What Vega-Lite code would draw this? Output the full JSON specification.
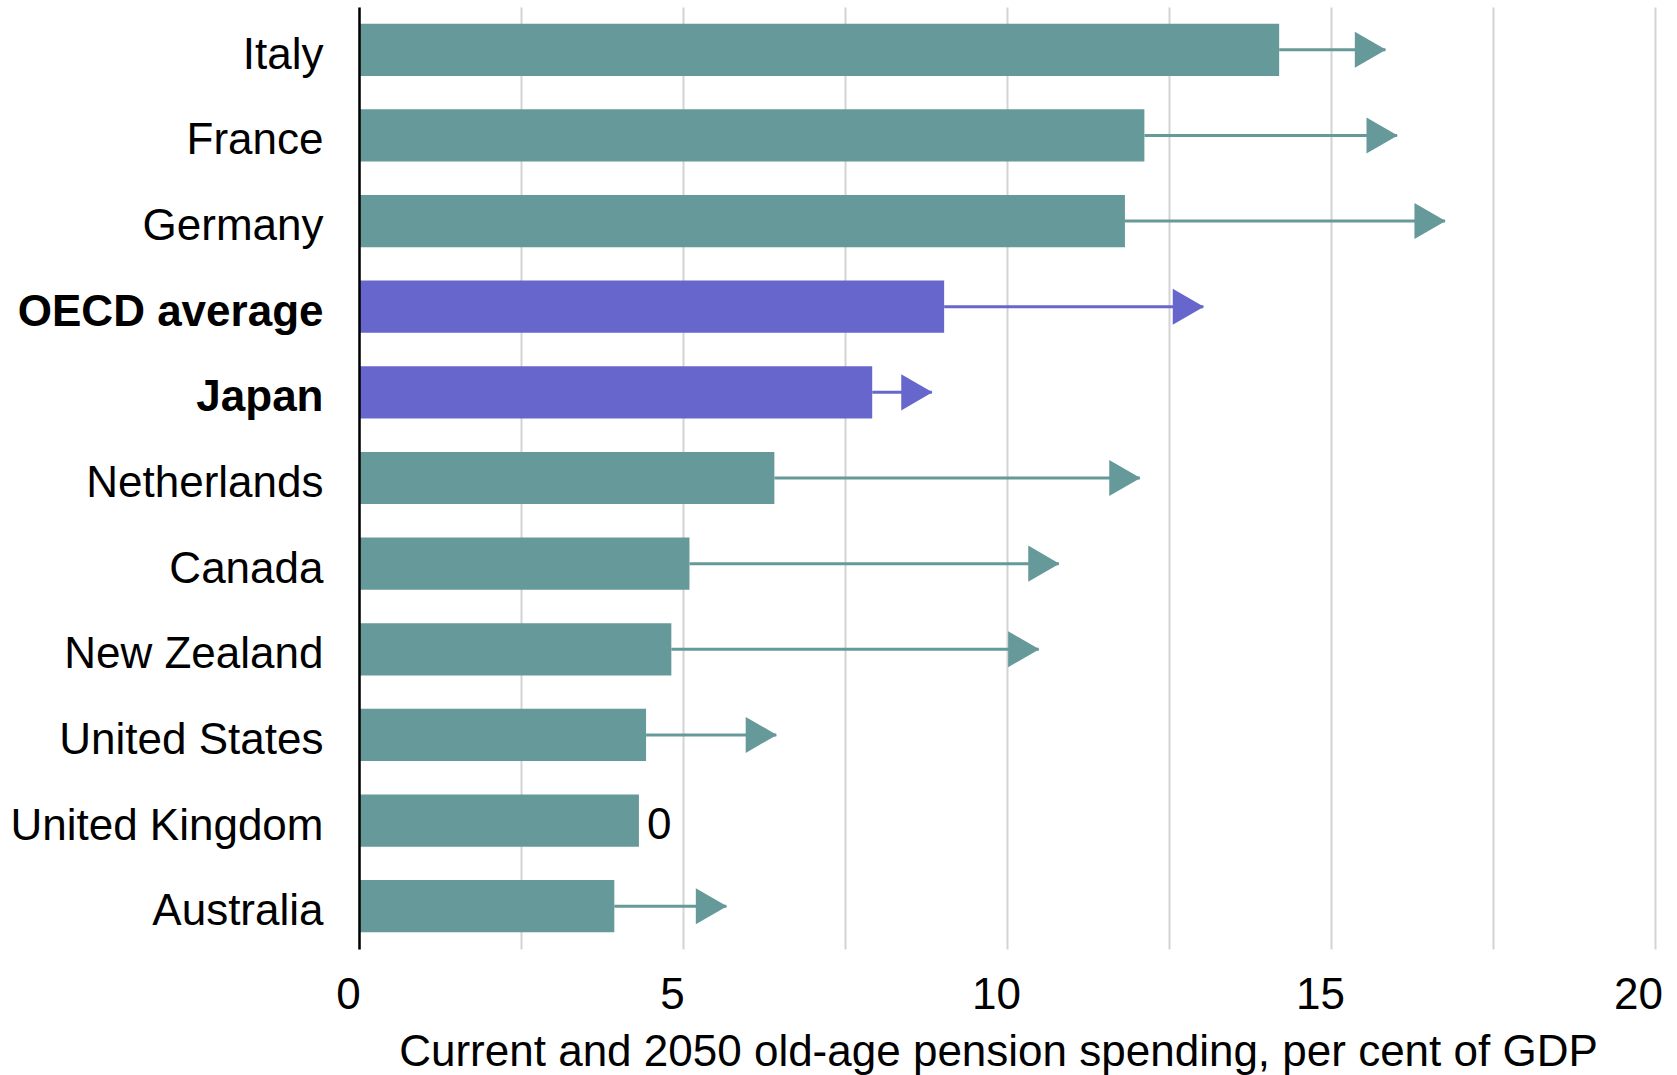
{
  "$schema": "https://vega.github.io/schema/vega-lite/v6.json",
  "width": 1296,
  "height": 942,
  "autosize": {"type": "none"},
  "padding": {"left": 359, "top": 7, "right": 22, "bottom": 126},
  "background": "white",
  "config": {"view": {"stroke": null}, "font": "Liberation Sans"},
  "data": {
    "values": [
      {"country": "Italy", "current": 14.2, "y2050": 15.84, "group": "other", "note": ""},
      {"country": "France", "current": 12.12, "y2050": 16.02, "group": "other", "note": ""},
      {"country": "Germany", "current": 11.82, "y2050": 16.76, "group": "other", "note": ""},
      {"country": "OECD average", "current": 9.03, "y2050": 13.03, "group": "highlight", "note": ""},
      {"country": "Japan", "current": 7.92, "y2050": 8.84, "group": "highlight", "note": ""},
      {"country": "Netherlands", "current": 6.41, "y2050": 12.05, "group": "other", "note": ""},
      {"country": "Canada", "current": 5.1, "y2050": 10.8, "group": "other", "note": ""},
      {"country": "New Zealand", "current": 4.82, "y2050": 10.49, "group": "other", "note": ""},
      {"country": "United States", "current": 4.43, "y2050": 6.44, "group": "other", "note": ""},
      {"country": "United Kingdom", "current": 4.32, "y2050": 4.32, "group": "other", "note": "0"},
      {"country": "Australia", "current": 3.94, "y2050": 5.67, "group": "other", "note": ""}
    ]
  },
  "encoding": {
    "y": {
      "field": "country",
      "type": "nominal",
      "sort": null,
      "scale": {"paddingInner": 0.39, "paddingOuter": 0.195},
      "axis": {
        "title": null,
        "ticks": false,
        "grid": false,
        "zindex": 2,
        "domainColor": "black",
        "domainWidth": 2.5,
        "labelFontSize": 44,
        "labelColor": "black",
        "labelPadding": 36,
        "labelLimit": 0,
        "labelOffset": 6,
        "labelFontWeight": {
          "condition": {"test": "datum.value === 'OECD average' || datum.value === 'Japan'", "value": "bold"},
          "value": "normal"
        }
      }
    }
  },
  "layer": [
    {
      "mark": {"type": "bar"},
      "encoding": {
        "x": {
          "field": "current",
          "type": "quantitative",
          "scale": {"domain": [0, 20], "nice": false},
          "axis": {
            "title": "Current and 2050 old-age pension spending, per cent of GDP",
            "titleFontSize": 44,
            "titleFontWeight": "normal",
            "titleColor": "black",
            "titleBaseline": "alphabetic",
            "titleY": 116,
            "titleX": 639,
            "values": [0, 2.5, 5, 7.5, 10, 12.5, 15, 17.5, 20],
            "labelExpr": "datum.value % 5 === 0 ? format(datum.value, 'd') : ''",
            "labelFontSize": 44,
            "labelColor": "black",
            "labelPadding": 24,
            "labelFlush": false,
            "labelOffset": {"condition": {"test": "datum.value === 20", "value": -17}, "value": -11},
            "ticks": false,
            "domain": false,
            "grid": true,
            "gridColor": "#D3D3D3",
            "gridWidth": 2
          }
        },
        "color": {
          "field": "group",
          "type": "nominal",
          "scale": {"domain": ["other", "highlight"], "range": ["#669999", "#6666CC"]},
          "legend": null
        }
      }
    },
    {
      "transform": [{"filter": "datum.y2050 > datum.current"}],
      "mark": {"type": "rule", "strokeWidth": 3},
      "encoding": {
        "x": {"field": "current", "type": "quantitative"},
        "x2": {"field": "y2050"},
        "color": {"field": "group", "type": "nominal", "legend": null}
      }
    },
    {
      "transform": [{"filter": "datum.y2050 > datum.current"}],
      "mark": {"type": "point", "shape": "triangle-right", "filled": true, "opacity": 1, "size": 1300, "xOffset": -15},
      "encoding": {
        "x": {"field": "y2050", "type": "quantitative"},
        "color": {"field": "group", "type": "nominal", "legend": null}
      }
    },
    {
      "transform": [{"filter": "datum.note != ''"}],
      "mark": {"type": "text", "align": "left", "dx": 8, "dy": 5, "fontSize": 44, "color": "black"},
      "encoding": {
        "x": {"field": "current", "type": "quantitative"},
        "text": {"field": "note"}
      }
    }
  ]
}
